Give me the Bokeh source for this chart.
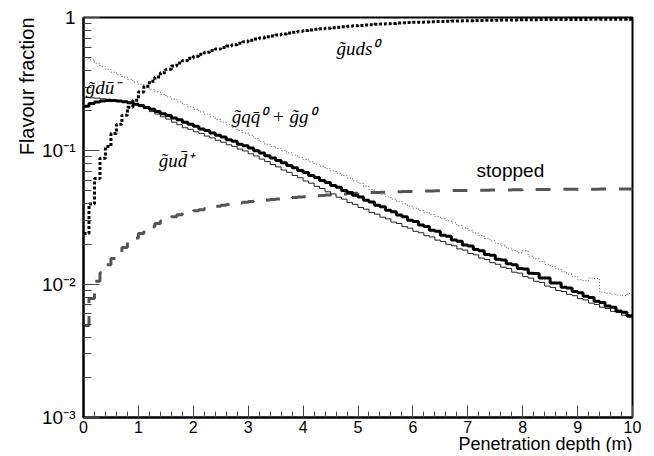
import numpy as np
from bokeh.plotting import figure
from bokeh.models import Range1d, FixedTicker, SingleIntervalTicker, Label, Title
from bokeh.embed import file_html
from bokeh.resources import INLINE

# ---- data (100 bins of 0.1 m from 0 to 10 m) ----
x_min, x_max, n_bins = 0.0, 10.0, 100

frac_uds0 = [0.024, 0.040, 0.062, 0.088, 0.108, 0.135, 0.158, 0.185, 0.212, 0.240,
             0.276, 0.305, 0.332, 0.358, 0.385, 0.410, 0.432, 0.455, 0.475, 0.495,
             0.512, 0.530, 0.548, 0.565, 0.580, 0.595, 0.610, 0.625, 0.640, 0.658,
             0.675, 0.690, 0.703, 0.716, 0.728, 0.740, 0.752, 0.764, 0.776, 0.787,
             0.798, 0.807, 0.815, 0.823, 0.831, 0.839, 0.846, 0.853, 0.860, 0.866,
             0.872, 0.878, 0.884, 0.889, 0.894, 0.899, 0.903, 0.908, 0.912, 0.916,
             0.920, 0.923, 0.926, 0.929, 0.932, 0.935, 0.938, 0.940, 0.943, 0.945,
             0.947, 0.949, 0.951, 0.952, 0.954, 0.955, 0.957, 0.958, 0.959, 0.960,
             0.961, 0.962, 0.963, 0.964, 0.964, 0.965, 0.966, 0.966, 0.967, 0.967,
             0.968, 0.968, 0.969, 0.969, 0.970, 0.970, 0.971, 0.971, 0.971, 0.972]

frac_udbar = [0.216, 0.226, 0.232, 0.236, 0.238, 0.238, 0.236, 0.233, 0.229, 0.224,
              0.219, 0.211, 0.205, 0.197, 0.190, 0.184, 0.176, 0.171, 0.164, 0.158,
              0.153, 0.146, 0.142, 0.136, 0.131, 0.127, 0.121, 0.118, 0.112, 0.109,
              0.105, 0.100, 0.0965, 0.0920, 0.0885, 0.0845, 0.0815, 0.0775, 0.0748, 0.0712,
              0.0688, 0.0652, 0.0631, 0.0600, 0.0580, 0.0550, 0.0533, 0.0505, 0.0488, 0.0465,
              0.0450, 0.0426, 0.0413, 0.0390, 0.0380, 0.0358, 0.0349, 0.0330, 0.0321, 0.0302,
              0.0295, 0.0278, 0.0271, 0.0254, 0.0249, 0.0233, 0.0229, 0.0214, 0.0210, 0.0197,
              0.0193, 0.0182, 0.0178, 0.0167, 0.0165, 0.0154, 0.0152, 0.0142, 0.0140, 0.0131,
              0.0130, 0.0121, 0.0120, 0.0111, 0.0111, 0.0102, 0.0102, 0.00950, 0.00935, 0.00880,
              0.00862, 0.00810, 0.00795, 0.00745, 0.00730, 0.00685, 0.00670, 0.00630, 0.00615, 0.00580]

frac_dubar = [0.252, 0.250, 0.248, 0.246, 0.244, 0.241, 0.238, 0.234, 0.229, 0.223,
              0.216, 0.208, 0.197, 0.189, 0.180, 0.173, 0.164, 0.157, 0.149, 0.145,
              0.139, 0.135, 0.129, 0.125, 0.120, 0.116, 0.111, 0.108, 0.103, 0.0998,
              0.0951, 0.0915, 0.0867, 0.0832, 0.0789, 0.0758, 0.0718, 0.0690, 0.0653, 0.0628,
              0.0594, 0.0572, 0.0542, 0.0522, 0.0493, 0.0475, 0.0449, 0.0434, 0.0409, 0.0397,
              0.0376, 0.0365, 0.0345, 0.0335, 0.0318, 0.0309, 0.0292, 0.0285, 0.0270, 0.0263,
              0.0249, 0.0243, 0.0231, 0.0226, 0.0214, 0.0209, 0.0199, 0.0194, 0.0184, 0.0180,
              0.0170, 0.0166, 0.0157, 0.0153, 0.0145, 0.0141, 0.0134, 0.0131, 0.0123, 0.0121,
              0.0114, 0.0111, 0.0105, 0.0103, 0.00968, 0.00945, 0.00897, 0.00880, 0.00838, 0.00820,
              0.00780, 0.00762, 0.00721, 0.00705, 0.00671, 0.00657, 0.00625, 0.00612, 0.00585, 0.00565]

frac_qqbar_gg = [0.501, 0.481, 0.453, 0.431, 0.409, 0.389, 0.373, 0.357, 0.343, 0.328,
                 0.315, 0.301, 0.288, 0.277, 0.265, 0.254, 0.243, 0.233, 0.223, 0.214,
                 0.205, 0.196, 0.188, 0.180, 0.172, 0.164, 0.157, 0.149, 0.142, 0.136,
                 0.131, 0.124, 0.117, 0.112, 0.108, 0.104, 0.1005, 0.0966, 0.0929, 0.0895,
                 0.0861, 0.0828, 0.0796, 0.0766, 0.0736, 0.0708, 0.0679, 0.0652, 0.0624, 0.0596,
                 0.0569, 0.0542, 0.0513, 0.0492, 0.0471, 0.0452, 0.0434, 0.0417, 0.0400, 0.0384,
                 0.0371, 0.0357, 0.0345, 0.0333, 0.0322, 0.0310, 0.0299, 0.0288, 0.0275, 0.0264,
                 0.0253, 0.0242, 0.0231, 0.0220, 0.0211, 0.0202, 0.0194, 0.0186, 0.0179, 0.0172,
                 0.0178, 0.0162, 0.0155, 0.0148, 0.0141, 0.0136, 0.0130, 0.0124, 0.0119, 0.0114,
                 0.0108, 0.0106, 0.0111, 0.0110, 0.0087, 0.00855, 0.0084, 0.0083, 0.0082, 0.0085]

frac_stopped = [0.0049, 0.0078, 0.0105, 0.0122, 0.0140, 0.0156, 0.0172, 0.0188, 0.0207, 0.0222,
                0.0240, 0.0256, 0.0270, 0.0285, 0.0298, 0.0310, 0.0320, 0.0331, 0.0340, 0.0348,
                0.0355, 0.0362, 0.0370, 0.0378, 0.0384, 0.0390, 0.0396, 0.0402, 0.0407, 0.0412,
                0.0416, 0.0420, 0.0424, 0.0428, 0.0432, 0.0436, 0.0440, 0.0443, 0.0446, 0.0450,
                0.0453, 0.0456, 0.0460, 0.0463, 0.0466, 0.0469, 0.0472, 0.0475, 0.0478, 0.0480,
                0.0482, 0.0484, 0.0486, 0.0488, 0.0490, 0.0491, 0.0493, 0.0494, 0.0495, 0.0496,
                0.0497, 0.0498, 0.0499, 0.0500, 0.0501, 0.0502, 0.0503, 0.0503, 0.0504, 0.0505,
                0.0505, 0.0506, 0.0507, 0.0507, 0.0508, 0.0508, 0.0509, 0.0509, 0.0510, 0.0510,
                0.0511, 0.0511, 0.0512, 0.0512, 0.0513, 0.0513, 0.0514, 0.0514, 0.0514, 0.0515,
                0.0515, 0.0515, 0.0516, 0.0516, 0.0517, 0.0517, 0.0517, 0.0518, 0.0518, 0.0518]

y_major_ticks = [1e-3, 1e-2, 1e-1, 1.0]
y_tick_labels = ["10\u207b\u00b3", "10\u207b\u00b2", "10\u207b\u00b9", "1"]

curve_labels = ["g\u0303uds\u2070",
                "g\u0303du\u0304\u207b",
                "g\u0303qq\u0304\u2070 + g\u0303g\u2070",
                "g\u0303ud\u0304\u207a",
                "stopped"]
x_title = "Penetration depth (m)"
y_title = "Flavour fraction"

# ---- figure ----
SANS = "Liberation Sans"
SERIF = "Liberation Serif"

p = figure(width=646, height=452,
           x_range=Range1d(x_min, x_max), y_range=Range1d(1e-3, 1.0),
           y_axis_type="log", output_backend="svg", toolbar_location=None,
           min_border_left=83, min_border_right=14, min_border_top=17, min_border_bottom=35)
p.background_fill_color = "white"
p.border_fill_color = "white"
p.xgrid.grid_line_color = None
p.ygrid.grid_line_color = None
p.outline_line_color = "black"
p.outline_line_width = 2

edges = np.linspace(x_min, x_max, n_bins + 1)

def hist(values, **kw):
    yy = list(values) + [values[-1]]
    p.step(edges, yy, mode="after", **kw)

hist(frac_qqbar_gg, line_color="#555555", line_width=1, line_dash="1 2")
hist(frac_stopped, line_color="#555555", line_width=3, line_dash="15 13")
hist(frac_dubar, line_color="#222222", line_width=1)
hist(frac_udbar, line_color="black", line_width=3)
hist(frac_uds0, line_color="black", line_width=3, line_dash="3 2")

# ---- axes ----
xa = p.xaxis[0]
xa.ticker = SingleIntervalTicker(interval=1, num_minor_ticks=5)
xa.axis_line_width = 2
xa.major_tick_in = 12
xa.major_tick_out = 0
xa.minor_tick_in = 6
xa.minor_tick_out = 0
xa.major_tick_line_color = "#444444"
xa.minor_tick_line_color = "#444444"
xa.major_label_text_font = SANS
xa.major_label_text_font_size = "16px"
xa.major_label_text_color = "black"
xa.major_label_standoff = 3

ya = p.yaxis[0]
minor = [m * d for d in (1e-3, 1e-2, 1e-1) for m in range(2, 10)]
ya.ticker = FixedTicker(ticks=y_major_ticks, minor_ticks=minor)
ya.axis_line_width = 2
ya.major_tick_in = 16
ya.major_tick_out = 0
ya.minor_tick_in = 8
ya.minor_tick_out = 0
ya.major_tick_line_color = "#444444"
ya.minor_tick_line_color = "#444444"
ya.major_label_overrides = dict(zip(y_major_ticks, y_tick_labels))
ya.major_label_text_font = SANS
ya.major_label_text_font_size = "19px"
ya.major_label_text_color = "black"
ya.major_label_standoff = 8

# axis titles, right/top aligned as in the original
p.add_layout(Title(text=x_title, align="right", text_font=SANS, text_font_size="18px",
                   text_font_style="normal", text_color="black", standoff=-8), "below")
p.add_layout(Title(text=y_title, align="right", text_font=SANS, text_font_size="20px",
                   text_font_style="normal", text_color="black", standoff=4), "left")

# curve labels (inside the frame)
label_pos = [(4.61, 0.585), (0.04, 0.298), (2.70, 0.181), (1.37, 0.0846)]
for (lx, ly), txt in zip(label_pos, curve_labels[:4]):
    p.add_layout(Label(x=lx, y=ly, text=txt, text_align="left", text_baseline="alphabetic",
                       text_font=SERIF, text_font_style="italic", text_font_size="19px",
                       text_color="black"))
p.add_layout(Label(x=7.16, y=0.0711, text=curve_labels[4], text_align="left",
                   text_baseline="alphabetic", text_font=SANS, text_font_size="19px",
                   text_color="black"))

open("out.html", "w").write(file_html(p, INLINE))
